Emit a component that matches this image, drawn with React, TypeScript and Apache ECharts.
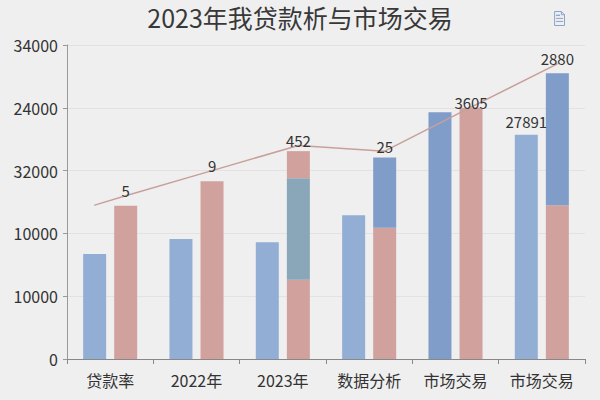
import { useEffect, useRef } from 'react';
import * as echarts from 'echarts';

// 차트 데이터
const categories = ['贷款率', '2022年', '2023年', '数据分析', '市场交易', '市场交易'];
const yTickLabels = ['0', '10000', '10000', '32000', '24000', '34000'];

const blueValues = [16700, 19100, 18600, 22900, 39300, 35700];
const blueLabels = ['', '', '', '', '', '27891'];
const pinkBottomValues = [24400, 28300, 12600, 20900, 40000, 24500];
const middleValues = [0, 0, 16200, 11200, 0, 21000];
const pinkTopValues = [0, 0, 4300, 0, 0, 0];

// 선 데이터 (카테고리 인덱스 기준 위치)
const lineX = [-0.18, 0.18, 1.18, 2.18, 3.18, 4.18, 5.18];
const lineValues = [24500, 26000, 30000, 34000, 33100, 40100, 47000];
const lineLabels = ['', '5', '9', '452', '25', '3605', '2880'];

const FONT = '"Noto Sans CJK SC", "Noto Sans", sans-serif';
const BLUE = '#93aed4';
const BLUE_DARK = '#809dc9';
const PINK = '#d1a29d';
const TEAL = '#89a7b9';

export default function App() {
    const chartRef = useRef<HTMLDivElement>(null);

    useEffect(() => {
        if (!chartRef.current) return;
        const chart = echarts.init(chartRef.current, undefined, { renderer: 'svg' });

        const option: echarts.EChartsOption = {
            animation: false,
            backgroundColor: '#efefef',
            textStyle: { fontFamily: FONT },
            title: {
                text: '2023年我贷款析与市场交易',
                left: 'center',
                top: -1,
                textStyle: { fontSize: 25, fontWeight: 'normal', color: '#383838', fontFamily: FONT },
            },
            toolbox: {
                right: 18,
                top: -6,
                itemSize: 14,
                iconStyle: { borderColor: '#8aa4cc' },
                feature: { dataView: { show: true } },
            },
            grid: { left: 67, right: 15, top: 45, bottom: 41 },
            xAxis: [
                {
                    type: 'category',
                    data: categories,
                    axisLine: { lineStyle: { color: '#888' } },
                    axisTick: { show: true, length: 5, lineStyle: { color: '#888' } },
                    axisLabel: { fontSize: 16, color: '#333', margin: 13, fontFamily: FONT },
                },
                {
                    type: 'value',
                    min: -0.5,
                    max: 5.5,
                    show: false,
                },
            ],
            yAxis: {
                type: 'value',
                min: 0,
                max: 50000,
                interval: 10000,
                axisLine: { show: true, onZero: false, lineStyle: { color: '#999' } },
                axisTick: { show: true, length: 4, lineStyle: { color: '#999' } },
                splitLine: { lineStyle: { color: '#e2e2e2' } },
                axisLabel: {
                    fontSize: 16,
                    color: '#333',
                    margin: 9,
                    fontFamily: FONT,
                    formatter: (v: number) => yTickLabels[Math.round(v / 10000)] ?? '',
                },
            },
            series: [
                {
                    type: 'bar',
                    barWidth: 23,
                    barGap: '35%',
                    data: blueValues,
                    itemStyle: {
                        color: (p: any) => (p.dataIndex === 4 ? BLUE_DARK : BLUE),
                    },
                    label: {
                        show: true,
                        position: 'top',
                        distance: 6,
                        fontSize: 15,
                        color: '#333',
                        formatter: (p: any) => blueLabels[p.dataIndex],
                    },
                },
                {
                    type: 'bar',
                    stack: 'right',
                    barWidth: 23,
                    data: pinkBottomValues,
                    itemStyle: { color: PINK },
                },
                {
                    type: 'bar',
                    stack: 'right',
                    barWidth: 23,
                    data: middleValues,
                    itemStyle: {
                        color: (p: any) => (p.dataIndex === 2 ? TEAL : BLUE_DARK),
                    },
                },
                {
                    type: 'bar',
                    stack: 'right',
                    barWidth: 23,
                    data: pinkTopValues,
                    itemStyle: { color: PINK },
                },
                {
                    type: 'line',
                    xAxisIndex: 1,
                    data: lineX.map((x, i) => [x, lineValues[i]]),
                    symbol: 'circle',
                    symbolSize: 1,
                    itemStyle: { color: '#c8a09b' },
                    lineStyle: { color: '#c8a09b', width: 1.5 },
                    label: {
                        show: true,
                        position: 'top',
                        distance: -3,
                        fontSize: 15,
                        color: '#333',
                        formatter: (p: any) => lineLabels[p.dataIndex],
                    },
                    z: 5,
                },
            ],
        };

        chart.setOption(option);

        return () => {
            chart.dispose();
        };
    }, []);

    return (
        <div
            ref={chartRef}
            style={{ position: 'absolute', left: 0, top: 0, width: 600, height: 400 }}
        />
    );
}
